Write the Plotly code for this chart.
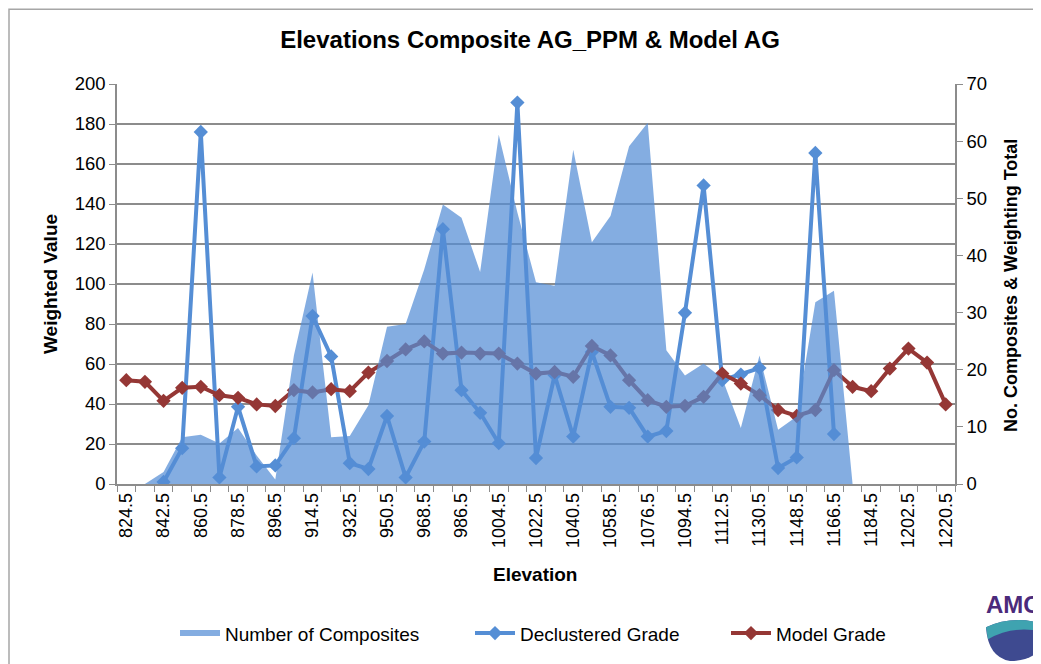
import plotly.graph_objects as go

elevations = [824.5 + 9 * i for i in range(45)]
elev_labels = ["%.1f" % e for e in elevations]

num_composites = [0, 0, 2.1, 8.2, 8.6, 7.1, 9.8, 5.0, 0.8, 22.5,
                  37.0, 8.2, 8.4, 13.8, 27.5, 28.0, 37.6, 48.9, 46.6, 37.1,
                  61.1, 47.5, 35.3, 34.7, 58.5, 42.3, 46.9, 59.1, 63.2, 23.4,
                  19.0, 21.1, 18.5, 9.8, 22.5, 9.5, 11.8, 31.8, 33.8, 0,
                  0, 0, 0, 0, 0]

declustered = [None, None, 1, 17.9, 176, 3.3, 38.6, 8.8, 9.3, 22.9,
               84, 63.8, 10.4, 7.5, 34, 3.3, 21.2, 127.4, 46.9, 35.6,
               20.4, 190.7, 13, 54.4, 23.7, 66, 38.6, 38.1, 23.7, 26.5,
               85.6, 149.3, 51.9, 54.7, 58, 8, 13.3, 165.5, 25, None,
               None, None, None, None, None]

model_grade = [51.9, 51.1, 41.6, 48.1, 48.6, 44.4, 43.1, 39.8, 39.0, 46.9,
               45.8, 47.4, 46.4, 55.7, 61.5, 67.3, 71.3, 65.2, 65.7, 65.2,
               65.2, 60.2, 55.2, 56.0, 53.6, 69.0, 64.3, 51.9, 41.9, 38.6,
               39.1, 43.6, 55.2, 50.2, 44.4, 37.0, 34.0, 37.0, 56.9, 48.6,
               46.4, 57.7, 67.7, 60.7, 39.8]

idx = list(range(len(elevations)))
FONT = "Arial, Liberation Sans, sans-serif"
BLUE = "#558ED5"
RED = "#953735"
GRID = "#8c8c8c"

# screen geometry (page pixels); the page body has an 8px margin
OFF = 8
SW, SH = 1041, 664
L, R, T, B = 117, 955, 84, 486
W, H = SW - OFF, SH - OFF
pw, ph = R - L, B - T


def px(x):
    return (x - L) / pw


def py(y):
    return (B - y) / ph


fig = go.Figure()
fig.add_trace(go.Scatter(
    x=idx, y=num_composites, name="Number of Composites", yaxis="y2",
    mode="none", fill="tozeroy", fillcolor="rgba(85,142,213,0.72)",
    hoverinfo="skip", legend="legend"))
fig.add_trace(go.Scatter(
    x=idx, y=declustered, name="Declustered Grade", mode="lines+markers",
    line=dict(color=BLUE, width=4),
    marker=dict(symbol="diamond", size=11, color=BLUE), legend="legend2"))
fig.add_trace(go.Scatter(
    x=idx, y=model_grade, name="Model Grade", mode="lines+markers",
    line=dict(color=RED, width=4),
    marker=dict(symbol="diamond", size=11, color=RED), legend="legend3"))


def leg(xs):
    return dict(orientation="h", x=px(xs), xanchor="left",
                y=py(636), yanchor="middle", itemwidth=40,
                font=dict(size=19, family=FONT), bgcolor="rgba(0,0,0,0)")


fig.update_layout(
    width=W, height=H,
    margin=dict(l=L - OFF, r=W - (R - OFF), t=T - OFF, b=H - (B - OFF)),
    paper_bgcolor="white", plot_bgcolor="white",
    font=dict(family=FONT, size=18, color="black"),
    showlegend=True,
    title=dict(text="<b>Elevations Composite AG_PPM &amp; Model AG</b>",
               font=dict(size=24, family=FONT, color="black"),
               x=px(530), xref="paper", xanchor="center",
               y=1 - (40 - OFF) / H, yref="container", yanchor="middle"),
    xaxis=dict(
        range=[-0.5, 44.5], tickmode="array",
        tickvals=idx[::2], ticktext=elev_labels[::2],
        tickangle=-90, ticks="", showgrid=False, zeroline=False,
        showline=True, linecolor=GRID, linewidth=1.5,
        tickfont=dict(size=18, family=FONT),
        minor=dict(tickmode="array",
                   tickvals=[i - 0.5 for i in range(46)],
                   ticks="outside", ticklen=6, tickcolor=GRID, showgrid=False),
    ),
    yaxis=dict(
        range=[0, 200], dtick=20, tick0=0,
        showgrid=True, gridcolor=GRID, gridwidth=1.5,
        zeroline=False, showline=True, linecolor=GRID, linewidth=1.5,
        ticks="outside", ticklen=6, tickcolor=GRID,
        tickfont=dict(size=18.5, family=FONT),
    ),
    yaxis2=dict(
        range=[0, 70], dtick=10, tick0=0, overlaying="y", side="right",
        showgrid=False, zeroline=False, showline=True, linecolor=GRID,
        linewidth=1.5, ticks="outside", ticklen=6, tickcolor=GRID,
        tickfont=dict(size=18.5, family=FONT),
    ),
    legend=leg(175),
    legend2=leg(470),
    legend3=leg(726),
    annotations=[
        dict(text="<b>Weighted Value</b>", textangle=-90, xref="paper", yref="paper",
             x=px(50), y=py(285), xanchor="center", yanchor="middle",
             showarrow=False, font=dict(size=19, family=FONT)),
        dict(text="<b>No. Composites &amp; Weighting Total</b>", textangle=-90,
             xref="paper", yref="paper", x=px(1011), y=py(287),
             xanchor="center", yanchor="middle",
             showarrow=False, font=dict(size=18, family=FONT)),
        dict(text="<b>Elevation</b>", xref="paper", yref="paper",
             x=px(535), y=py(577), xanchor="center", yanchor="middle",
             showarrow=False, font=dict(size=19, family=FONT)),
        dict(text="<b>AMC</b>", xref="paper", yref="paper",
             x=px(984), y=py(607), xanchor="left", yanchor="middle",
             showarrow=False, font=dict(size=24, family=FONT, color="#4B2A7B")),
    ],
    shapes=[
        dict(type="rect", xref="paper", yref="paper",
             x0=px(9), x1=px(1060), y0=py(690), y1=py(9),
             line=dict(color="#a6a6a6", width=1.5), fillcolor="rgba(0,0,0,0)",
             layer="below"),
        dict(type="path", xref="paper", yref="paper",
             path="M %f %f Q %f %f %f %f L %f %f Q %f %f %f %f Q %f %f %f %f Z" % (
                 px(986), py(630), px(1012), py(618), px(1041), py(626),
                 px(1041), py(652),
                 px(1030), py(664), px(1010), py(664),
                 px(988), py(660), px(986), py(630)),
             fillcolor="#3E4A90", line=dict(width=0)),
        dict(type="path", xref="paper", yref="paper",
             path="M %f %f Q %f %f %f %f L %f %f Q %f %f %f %f Z" % (
                 px(986), py(630), px(1012), py(618), px(1041), py(626),
                 px(1041), py(634),
                 px(1012), py(628), px(988), py(642)),
             fillcolor="#3FA3B0", line=dict(width=0)),
    ],
)

fig.write_html("out.html")
